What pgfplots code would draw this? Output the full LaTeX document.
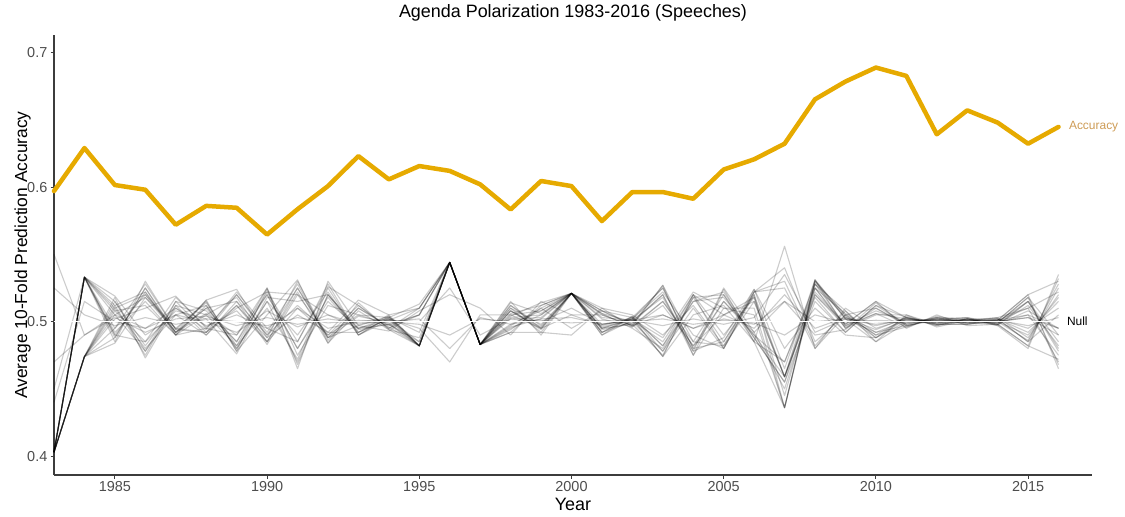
\documentclass[border=0pt]{standalone}
\usepackage{fontspec}
\setmainfont{Liberation Sans}
\usepackage{pgfplots}
\pgfplotsset{compat=1.18}
\usepackage{pgfplotstable}
\usetikzlibrary{calc}

\definecolor{acc}{RGB}{230,170,0}
\definecolor{acclab}{RGB}{205,155,85}
\definecolor{tickgray}{RGB}{77,77,77}
\definecolor{axgray}{RGB}{60,60,60}

\pgfplotstableread{
year acc
1983 0.597
1984 0.629
1985 0.6015
1986 0.598
1987 0.572
1988 0.586
1989 0.5846
1990 0.5647
1991 0.5835
1992 0.6007
1993 0.623
1994 0.6057
1995 0.6156
1996 0.612
1997 0.602
1998 0.5833
1999 0.6045
2000 0.6007
2001 0.5747
2002 0.5963
2003 0.5963
2004 0.5913
2005 0.613
2006 0.6206
2007 0.6322
2008 0.6652
2009 0.6784
2010 0.6888
2011 0.6826
2012 0.6392
2013 0.657
2014 0.6479
2015 0.6322
2016 0.6447
}\acctable

\pgfplotstableread{
id 1983 1984 1985 1986 1987 1988 1989 1990 1991 1992 1993 1994 1995 1996 1997 1998 1999 2000 2001 2002 2003 2004 2005 2006 2007 2008 2009 2010 2011 2012 2013 2014 2015 2016
n1 .403 .533 .495 .520 .492 .510 .485 .520 .480 .515 .495 .503 .482 .544 .483 .508 .495 .521 .495 .502 .525 .480 .515 .490 .459 .525 .495 .510 .497 .502 .501 .500 .515 .480
n2 .403 .474 .515 .478 .515 .492 .520 .490 .525 .488 .510 .497 .505 .544 .483 .494 .510 .521 .492 .500 .478 .518 .485 .520 .436 .530 .505 .490 .503 .498 .500 .502 .485 .525
n3 .403 .533 .510 .480 .505 .512 .480 .515 .470 .520 .492 .502 .485 .544 .483 .505 .508 .521 .505 .497 .515 .485 .520 .488 .455 .515 .492 .512 .498 .503 .499 .501 .510 .470
n4 .403 .474 .488 .525 .490 .505 .518 .485 .510 .490 .512 .495 .510 .544 .483 .512 .497 .521 .490 .504 .482 .520 .480 .522 .530 .482 .508 .488 .504 .497 .502 .498 .482 .532
n5 .403 .533 .505 .518 .495 .492 .510 .522 .485 .528 .490 .504 .482 .544 .483 .492 .512 .521 .508 .498 .527 .475 .510 .505 .436 .528 .497 .508 .500 .501 .503 .499 .518 .490
n6 .403 .533 .485 .530 .494 .515 .478 .505 .531 .484 .508 .494 .488 .544 .483 .510 .492 .490 .510 .505 .490 .512 .482 .524 .465 .531 .502 .485 .505 .496 .501 .503 .488 .520
n7 .403 .474 .518 .473 .512 .490 .515 .483 .520 .505 .495 .501 .482 .544 .483 .503 .505 .521 .494 .499 .520 .478 .525 .492 .515 .490 .494 .514 .497 .502 .498 .501 .520 .465
n8 .403 .474 .502 .510 .519 .495 .490 .525 .465 .530 .497 .493 .508 .520 .510 .490 .515 .505 .497 .503 .474 .505 .512 .485 .556 .480 .510 .495 .502 .499 .502 .497 .480 .535
n9 .450 .533 .490 .522 .490 .516 .524 .488 .505 .492 .516 .505 .482 .544 .483 .515 .490 .521 .502 .496 .512 .482 .505 .515 .459 .520 .496 .506 .496 .504 .500 .499 .505 .475
n10 .403 .474 .508 .485 .508 .502 .476 .518 .515 .520 .494 .498 .482 .544 .483 .495 .505 .521 .490 .501 .485 .520 .490 .518 .445 .525 .506 .492 .501 .498 .502 .502 .492 .515
n11 .550 .490 .505 .495 .510 .497 .505 .495 .510 .495 .500 .502 .495 .470 .505 .505 .495 .505 .505 .497 .505 .495 .505 .495 .520 .495 .503 .497 .502 .500 .499 .501 .505 .495
n12 .403 .533 .512 .475 .515 .508 .485 .525 .475 .512 .505 .503 .513 .544 .483 .502 .503 .521 .495 .502 .522 .490 .480 .520 .459 .522 .498 .515 .495 .505 .497 .498 .512 .482
n13 .403 .533 .492 .515 .490 .495 .520 .492 .528 .486 .510 .496 .482 .544 .483 .508 .494 .521 .506 .495 .480 .515 .518 .490 .470 .528 .503 .494 .503 .499 .502 .500 .486 .528
n14 .403 .474 .510 .520 .495 .514 .482 .510 .472 .525 .490 .503 .492 .544 .483 .497 .510 .495 .508 .503 .525 .480 .485 .522 .540 .485 .505 .510 .498 .502 .503 .497 .515 .478
n15 .403 .533 .519 .490 .505 .490 .512 .485 .525 .488 .504 .499 .482 .544 .483 .510 .498 .521 .495 .498 .475 .518 .520 .485 .436 .531 .495 .505 .505 .498 .498 .502 .495 .510
n16 .403 .474 .484 .518 .492 .506 .490 .520 .480 .518 .492 .505 .510 .544 .483 .498 .508 .521 .503 .501 .518 .478 .488 .524 .480 .510 .490 .488 .502 .501 .501 .499 .518 .468
n17 .470 .490 .503 .492 .502 .504 .497 .503 .498 .502 .499 .500 .502 .480 .503 .498 .502 .503 .498 .501 .497 .502 .498 .503 .535 .492 .502 .498 .501 .500 .501 .500 .503 .495
n18 .403 .533 .488 .525 .492 .510 .515 .490 .512 .492 .492 .502 .482 .544 .483 .512 .495 .521 .492 .503 .482 .515 .522 .488 .455 .528 .508 .485 .499 .503 .499 .501 .520 .530
n19 .403 .474 .505 .478 .510 .494 .522 .495 .485 .526 .512 .495 .505 .544 .483 .506 .512 .521 .508 .497 .527 .485 .482 .515 .459 .518 .492 .512 .503 .497 .502 .498 .482 .472
n20 .403 .533 .515 .482 .512 .505 .482 .522 .520 .490 .505 .498 .485 .544 .483 .492 .492 .521 .496 .502 .488 .522 .510 .510 .436 .530 .502 .492 .497 .501 .500 .503 .510 .522
n21 .403 .474 .495 .528 .494 .492 .512 .488 .530 .488 .497 .504 .482 .544 .483 .514 .506 .521 .506 .500 .520 .475 .524 .485 .470 .525 .497 .506 .502 .498 .498 .500 .490 .518
n22 .403 .533 .508 .512 .490 .512 .480 .515 .490 .522 .490 .501 .510 .544 .483 .496 .502 .521 .492 .504 .478 .510 .480 .522 .525 .480 .505 .490 .496 .503 .502 .498 .515 .485
n23 .403 .533 .490 .485 .518 .496 .508 .485 .522 .484 .514 .494 .482 .544 .483 .504 .514 .521 .510 .496 .515 .482 .515 .492 .450 .520 .498 .515 .503 .499 .501 .502 .485 .505
n24 .403 .474 .512 .522 .492 .516 .478 .524 .468 .520 .495 .498 .505 .544 .483 .508 .496 .521 .498 .502 .474 .520 .505 .518 .459 .531 .504 .488 .500 .502 .499 .498 .508 .495
n25 .525 .505 .497 .503 .498 .502 .500 .497 .503 .499 .501 .500 .498 .490 .502 .500 .501 .499 .501 .500 .502 .498 .501 .499 .490 .505 .499 .501 .500 .500 .500 .501 .497 .503
n26 .440 .515 .500 .495 .505 .500 .492 .508 .496 .505 .498 .501 .500 .525 .490 .502 .500 .510 .498 .501 .505 .495 .502 .498 .515 .500 .502 .500 .499 .501 .500 .500 .503 .490
}\nullraw
\pgfplotstabletranspose[colnames from=id,input colnames to=year]{\nulltab}{\nullraw}

\begin{document}
\begin{tikzpicture}
\begin{axis}[
  width=1038bp, height=440bp, scale only axis,
  xmin=1983, xmax=2017.1, ymin=0.386, ymax=0.713,
  clip=false,
  axis x line*=bottom, axis y line*=left,
  axis line style={axgray, line width=1.1bp, -},
  xtick={1985,1990,1995,2000,2005,2010,2015},
  ytick={0.4,0.5,0.6,0.7},
  tick align=outside, major tick length=3.5bp,
  tick style={axgray, line width=0.8bp},
  /pgf/number format/assume math mode=true,
  x tick label style={/pgf/number format/1000 sep={}},
  tick label style={font=\fontsize{14.5}{14.5}\selectfont, text=tickgray, inner sep=3bp},
  yticklabel style={/pgf/number format/fixed, /pgf/number format/precision=1},
]
\pgfplotsinvokeforeach{1,...,26}{
  \addplot[black, opacity=0.2, line width=1.1bp, line join=round] table[x=year, y=n#1] {\nulltab};
}
\addplot[white, line width=1.3bp] coordinates {(1983,0.5) (2016,0.5)};
\addplot[acc, line width=4.5bp, line join=round, line cap=round] table[x=year, y=acc] {\acctable};
\node[anchor=west, text=acclab, font=\fontsize{12}{12}\selectfont, xshift=7bp] at (axis cs:2016,0.6447) {Accuracy};
\node[anchor=west, text=black, font=\fontsize{12}{12}\selectfont, xshift=5bp] at (axis cs:2016,0.5) {Null};
\coordinate (ll) at (rel axis cs:0,0);
\coordinate (ur) at (rel axis cs:1,1);
\end{axis}
\node[anchor=base, font=\fontsize{18}{18}\selectfont] at ($(ll)!0.5!(ll-|ur)+(0,-35bp)$) {Year};
\node[anchor=base, rotate=90, font=\fontsize{17.5}{17.5}\selectfont] at ($(ll)!0.5!(ll|-ur)+(-27bp,0)$) {Average 10-Fold Prediction Accuracy};
\node[anchor=base, font=\fontsize{18}{18}\selectfont] at ($(ur-|ll)!0.5!(ur)+(0,17bp)$) {Agenda Polarization 1983-2016 (Speeches)};
\pgfresetboundingbox
\path[use as bounding box] ([shift={(-54bp,-42bp)}]ll) rectangle ([shift={(33bp,35bp)}]ur);
\end{tikzpicture}
\end{document}
